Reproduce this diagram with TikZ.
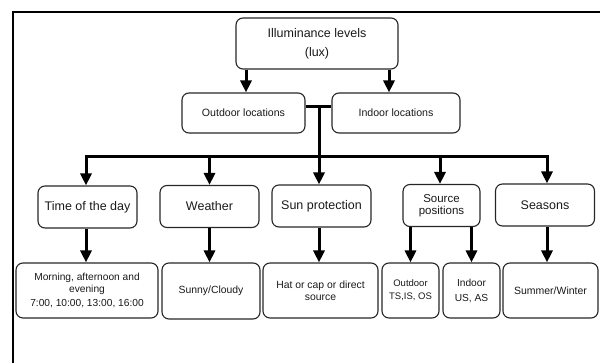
\documentclass[tikz,border=0pt]{standalone}
\usepackage{fontspec}
\setmainfont{Liberation Sans}
\usetikzlibrary{arrows.meta}
\tikzset{
  box/.style={draw=black!85, line width=1.1pt, rounded corners=7pt, align=center, inner sep=1pt, text=black!90},
  arr/.style={line width=3pt, -{Triangle[width=11pt,length=12pt]}},
  bus/.style={line width=3pt},
  fr/.style={line width=2pt}
}
\newcommand{\fs}[2]{\fontsize{#1}{#2}\selectfont}
\begin{document}
\begin{tikzpicture}[x=1pt,y=-1pt]
\useasboundingbox (0,0) rectangle (600,363);
\coordinate (f0) at (12.5,363);
\coordinate (f1) at (12.5,12);
\coordinate (f2) at (601,12);
\draw[fr] (f0) -- (f1) -- (f2);

\node[box, minimum width=162pt, minimum height=51pt, font=\fs{12.5}{14}] (top) at (317,43.5) {Illuminance levels\\[5pt](lux)};
\node[box, minimum width=123pt, minimum height=40pt, font=\fs{10.6}{12}] (out) at (243.5,113) {Outdoor locations};
\node[box, minimum width=128pt, minimum height=40pt, font=\fs{10.6}{12}] (ind) at (396,113) {Indoor locations};

\node[box, minimum width=99pt, minimum height=42pt, font=\fs{12.5}{14}] (time) at (87.5,207) {Time of the day};
\node[box, minimum width=99pt, minimum height=42pt, font=\fs{12.5}{14}] (wea) at (209.5,206.5) {Weather};
\node[box, minimum width=99pt, minimum height=42pt, font=\fs{12.5}{14}] (sun) at (321.5,206) {Sun protection};
\node[box, minimum width=77pt, minimum height=42pt, font=\fs{11.5}{12.5}] (src) at (441.5,205.5) {Source\\positions};
\node[box, minimum width=99pt, minimum height=42pt, font=\fs{12.5}{14}] (sea) at (545,205) {Seasons};

\node[box, minimum width=142pt, minimum height=55pt, font=\fs{10.2}{12}] (morn) at (87,290.5) {Morning, afternoon and\\evening\\[1.5pt]7:00, 10:00, 13:00, 16:00};
\node[box, minimum width=98pt, minimum height=56pt, font=\fs{10.4}{12}] (sunny) at (211,291) {Sunny/Cloudy};
\node[box, minimum width=115pt, minimum height=55pt, font=\fs{10.4}{12}] (hat) at (320.5,290.5) {Hat or cap or direct\\source};
\node[box, minimum width=57pt, minimum height=55pt, font=\fs{9.5}{13}] (outd) at (410.5,290.5) {Outdoor\\TS,IS, OS};
\node[box, minimum width=57pt, minimum height=55pt, font=\fs{10.2}{15}] (indr) at (471.5,290.5) {Indoor\\US, AS};
\node[box, minimum width=95pt, minimum height=55pt, font=\fs{10.5}{12}] (summ) at (550.5,290.5) {Summer/Winter};

% top to locations
\draw[arr] ([xshift=2.5pt]out.north |- top.south) -- ([xshift=2.5pt]out.north);
\draw[arr] ([xshift=-7pt]ind.north |- top.south) -- ([xshift=-7pt]ind.north);

% locations junction and bus
\coordinate (j) at (319,107);
\coordinate (bl) at (86,157);
\coordinate (br) at (547,157);
\draw[bus] (out.east |- j) -- (ind.west |- j);
\draw[bus] (j) -- (j |- bl);
\draw[bus] ([xshift=-1.5pt]bl) -- ([xshift=1.5pt]br);

% bus to level 2
\draw[arr] (bl) -- (bl |- time.north);
\draw[arr] (wea.north |- bl) -- (wea.north);
\draw[arr] ([xshift=-2.5pt]sun.north |- bl) -- ([xshift=-2.5pt]sun.north);
\draw[arr] ([xshift=-1.5pt]src.north |- bl) -- ([xshift=-1.5pt]src.north);
\draw[arr] (br) -- (br |- sea.north);

% level 2 to level 3
\draw[arr] (bl |- time.south) -- (bl |- morn.north);
\draw[arr] (wea.south) -- (wea.south |- sunny.north);
\draw[arr] ([xshift=-2.5pt]sun.south) -- ([xshift=-2.5pt]sun.south |- hat.north);
\draw[arr] (outd.north |- src.south) -- (outd.north);
\draw[arr] (indr.north |- src.south) -- (indr.north);
\draw[arr] (br |- sea.south) -- (br |- summ.north);
\end{tikzpicture}
\end{document}
